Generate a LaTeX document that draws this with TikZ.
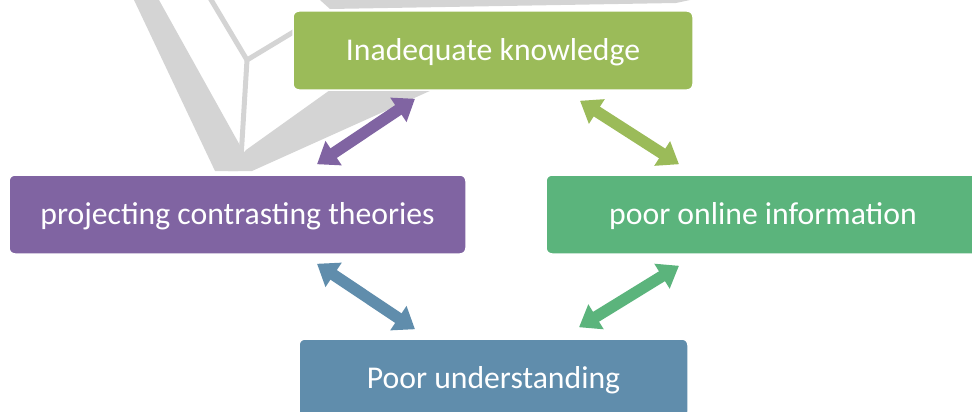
\documentclass[tikz,border=0pt]{standalone}
\usepackage{fontspec}
\setmainfont{Carlito}
\usetikzlibrary{arrows.meta,positioning}
\definecolor{knowgreen}{RGB}{155,187,89}
\definecolor{theorypurple}{RGB}{128,100,162}
\definecolor{onlinegreen}{RGB}{91,180,124}
\definecolor{underblue}{RGB}{96,141,172}
\definecolor{wmgrey}{RGB}{212,212,212}

\begin{document}
\begin{tikzpicture}[x=1pt,y=-1pt,
    box/.style={rounded corners=6pt,draw=white,line width=1.5pt,text=white,
      minimum height=79pt,inner sep=0pt,text height=20.4pt,text depth=0pt,
      font=\fontsize{31.7}{38}\selectfont},
    link/.style={{Triangle[width=28pt,length=20pt]}-{Triangle[width=28pt,length=20pt]},
      line width=11.5pt},
    wmfill/.style={fill=wmgrey},
    wmline/.style={draw=wmgrey,line width=5pt,line cap=round}]
    \useasboundingbox (0,0) rectangle (972,412);
    \clip (0,0) rectangle (972,412);

    % watermark in the background
    \fill[wmfill] (134,0) -- (159,0) -- (247,158) -- (238,171) -- (215,171) -- cycle;
    \fill[wmfill] (228,171) -- (252,171) -- (432,90) -- (330,90) -- (246,150) -- cycle;
    \fill[wmfill] (320,0) -- (690,0) -- (676,3) -- (330,9) -- cycle;
    \draw[wmline] (210,-2) -- (247,60) -- (241,158);
    \draw[wmline] (247,60) -- (300,28);

    \node[box,fill=knowgreen,minimum width=400pt] (know) at (493,50.5) {Inadequate knowledge};
    \node[box,fill=theorypurple,minimum width=457pt] (theory) at (237.5,214.5) {projecting contrasting theories};
    \node[box,fill=onlinegreen,minimum width=434pt] (online) at (763,214.5) {poor online information};
    \node[box,fill=underblue,minimum width=389pt] (under) at (493.5,378.5) {Poor understanding};

    \draw[link,theorypurple] ([shift={(-78,8)}]know.south) -- ([shift={(79.5,-10)}]theory.north);
    \draw[link,knowgreen] ([shift={(87,10)}]know.south) -- ([shift={(-84,-10)}]online.north);
    \draw[link,underblue] ([shift={(79.5,9)}]theory.south) -- ([shift={(-78.5,-9)}]under.north);
    \draw[link,onlinegreen] ([shift={(-84,11)}]online.south) -- ([shift={(85.5,-11)}]under.north);
\end{tikzpicture}
\end{document}
